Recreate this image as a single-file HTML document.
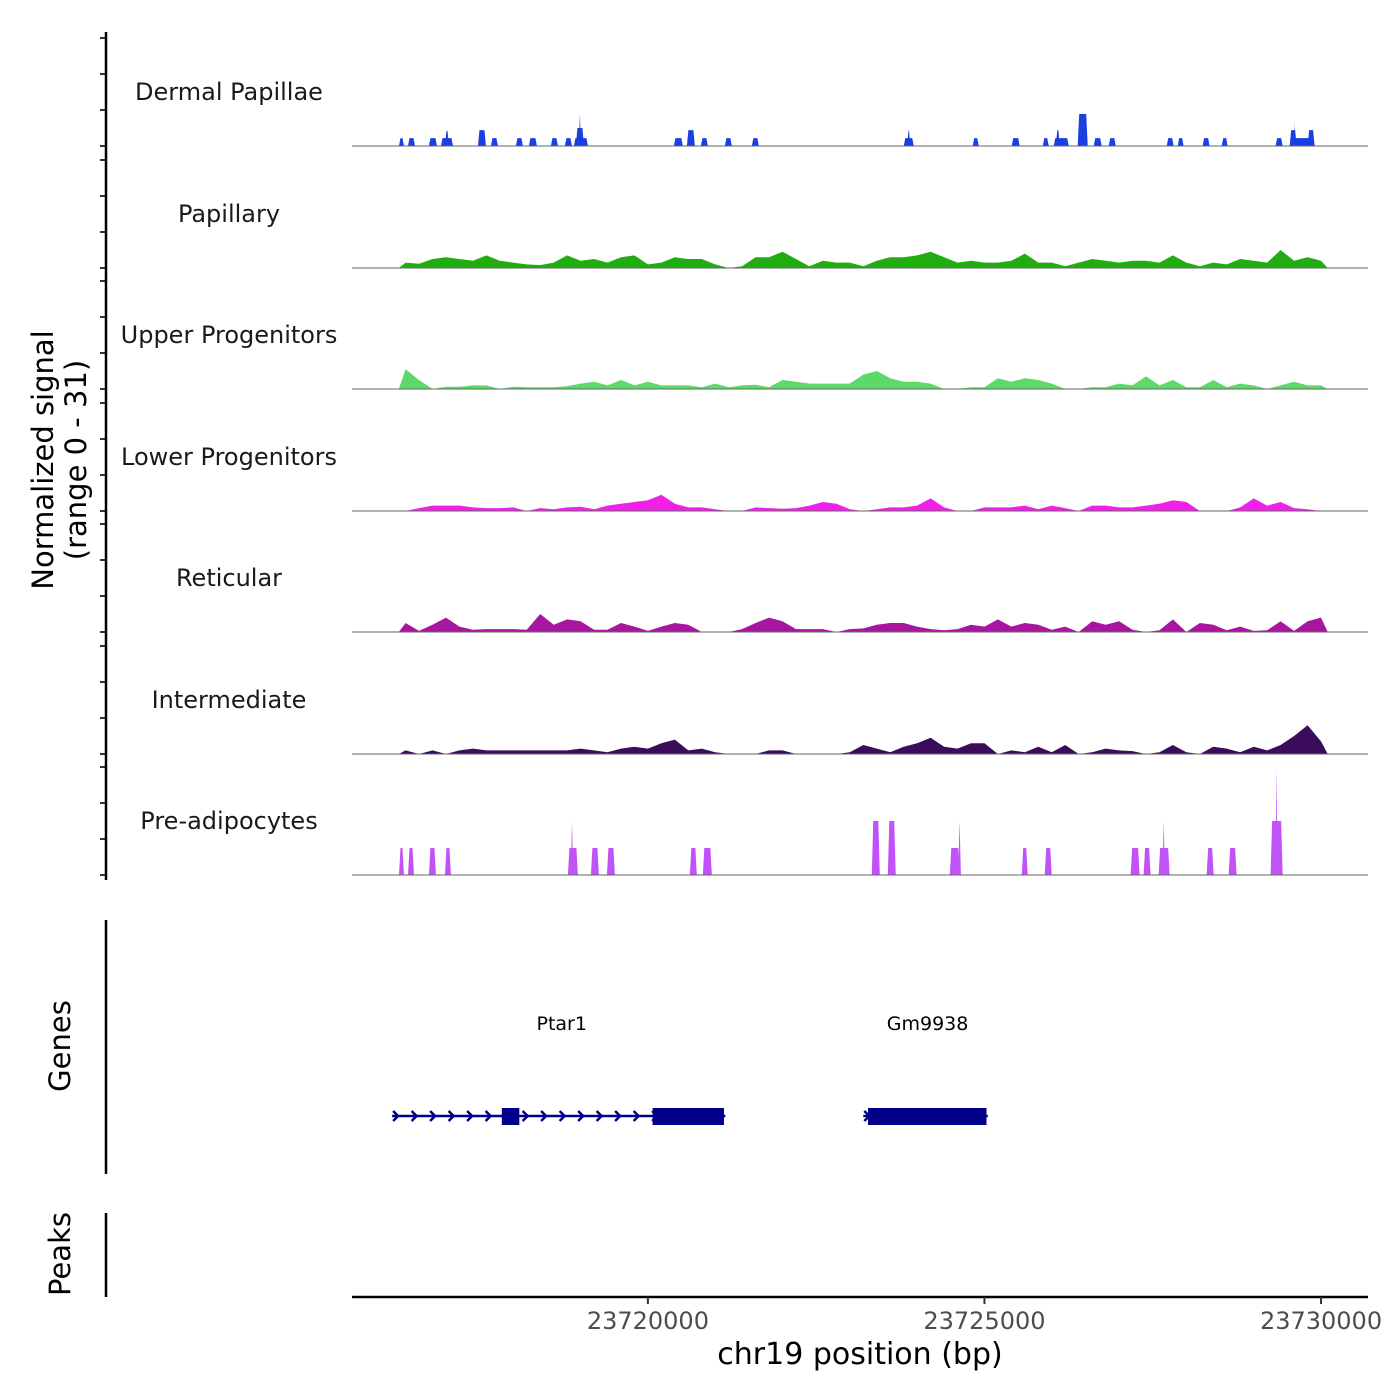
<!DOCTYPE html>
<html><head><meta charset="utf-8"><style>
html,body{margin:0;padding:0;background:#fff}
svg{display:block;font-family:"DejaVu Sans","Liberation Sans",sans-serif}
</style></head><body>
<svg id="chart" width="1400" height="1400" viewBox="0 0 1400 1400">
<g id="g-tracks"></g>
<g id="g-axes"></g>
<g id="g-genes"></g>
</svg>
<script>
// ---- data ----
const xTicks = [23720000, 23725000, 23730000];
const xTickLabels = ["23720000", "23725000", "23730000"];
const trackNames = ["Dermal Papillae","Papillary","Upper Progenitors","Lower Progenitors","Reticular","Intermediate","Pre-adipocytes"];
const trackColors = ["#1a3fe3","#1fad0f","#5cd968","#f020e8","#a8169f","#3b0b5c","#c152f7"];
const binStart = 23716300;
const binSize = 200;
const papillaryBins = [1.5,1.2,2.5,3,2.5,2,3.5,2,1.5,1,0.8,1.5,3.5,2,2.5,1.5,3,3.5,1,1.5,3,2.5,2.5,1,0,0.5,3,3,4.5,2.5,0.5,2,1.5,1.5,0.5,2,3,3,3.5,4.5,3,1.5,2,1.5,1.5,2,4,1.5,1.5,0.5,1.5,2.5,2,1.5,2,2,1.5,3.5,1.5,0.5,1.5,1,2.5,2,1.5,5,2,3,2];
const upperBins = [5.5,2.5,0,0.6,0.6,1,1,0,0.6,0.5,0.5,0.5,0.8,1.5,2,1,2.5,1,2,1,1,1,0.5,1.5,0.5,1,1.2,0.5,2.5,2,1.5,1.5,1.5,1.5,4,5,3,2,2,1.5,0,0,0.5,0.5,3,2,3,2.5,1.5,0,0,0.5,0.5,1.5,1,3.5,1,2.5,0.5,0.5,2.5,0.5,1.5,1,0,1,2,1,1];
const lowerBins = [0,0.8,1.5,1.5,1.5,1,0.8,0.8,1,0,0.8,0.5,1,1.2,0.5,1.5,2,2.5,3,4.5,2,1,1,0.5,0,0,1,0.8,0.6,0.8,1.5,2.5,2,0.5,0,0.5,1,1,1.5,3.5,1,0,0,1,1,1,1.5,0.5,1.5,0.8,0,1.5,1.5,1,1,1.5,2,3,2.5,0,0,0,1,3.5,1.5,2.5,0.8,0.5,0];
const reticularBins = [2.5,0.3,2,4,1.5,0.6,0.8,0.8,0.8,0.6,5,2,3.5,3,0.6,0.6,2.5,1.5,0.3,1.5,2.5,2,0,0,0,0.8,2.5,4,3,0.8,0.8,0.8,0,0.8,1,2,2.5,2.5,1.5,0.8,0.5,0.8,2,1.5,3.5,1.5,2.5,2,0.6,1.5,0,3,2,3,0.6,0,0.5,3.5,0,2.5,2,0.5,1.5,0.3,0.5,3,0.3,3,4];
const intermediateBins = [1,0,1,0,1,1.5,1,1,1,1,1,1,1,1.5,1,0.5,1.5,2,1.5,3,4,1,1.5,0.5,0,0,0,1,1,0,0,0,0,0.5,2.5,1.5,0.5,2,3,4.5,2,1.5,3,3,0,1,0.5,2,0.5,2.5,0,0.5,1.5,1,0.8,0,0.5,2.5,0.5,0,2,1.5,0.5,2,1,2.5,5,8,3.5];
const dermalStarts = [23716302,23716436,23716747,23716926,23716985,23717475,23717668,23718039,23718232,23718559,23718767,23718901,23718930,23718975,23720386,23720579,23720787,23721143,23721544,23723801,23723850,23724826,23725405,23725866,23726029,23726060,23726385,23726623,23726846,23727708,23727871,23728241,23728524,23729325,23729534,23729534,23729600,23729801];
const dermalEnds   = [23716376,23716540,23716866,23717104,23717045,23717594,23717772,23718143,23718351,23718663,23718871,23719109,23719050,23719005,23720519,23720698,23720891,23721247,23721648,23723950,23723900,23724915,23725524,23725955,23726252,23726120,23726534,23726742,23726951,23727811,23727959,23728345,23728613,23729430,23729905,23729638,23729615,23729905];
const dermalValues = [2.2,2.2,2.2,2.2,4.2,4.4,2.2,2.2,2.2,2.2,2.2,2.2,5,8.9,2.2,4.4,2.2,2.2,2.2,2.2,4.4,2.2,2.2,2.2,2.2,4.4,8.9,2.2,2.2,2.2,2.2,2.2,2.2,2.2,2.2,4.4,6.7,4.4];
const preadStarts = [23716302,23716436,23716747,23716985,23718812,23718855,23719153,23719391,23720623,23720816,23723326,23723564,23724485,23724610,23725554,23725895,23727172,23727364,23727588,23727645,23728301,23728628,23729251,23729325];
const preadEnds   = [23716376,23716525,23716851,23717074,23718960,23718890,23719272,23719510,23720727,23720950,23723445,23723682,23724633,23724650,23725643,23725999,23727305,23727468,23727751,23727680,23728405,23728746,23729430,23729355];
const preadValues = [7.5,7.5,7.5,7.5,7.5,15,7.5,7.5,7.5,7.5,15,15,7.5,15,7.5,7.5,7.5,7.5,7.5,15,7.5,7.5,15,30];
const geneNames = ["Ptar1","Gm9938"];
const geneStarts = [23716200, 23723200];
const geneEnds = [23721150, 23725050];
const exonStarts = [23717830, 23720070, 23723270];
const exonEnds = [23718090, 23721130, 23725030];

// ---- scales ----
const NS = "http://www.w3.org/2000/svg";
const X0 = 352, X1 = 1368, D0 = 23715604, D1 = 23730698;
function xs(bp){ return X0 + (bp - D0) / (D1 - D0) * (X1 - X0); }
const baselines = [146,268,389,511,632,754,875];
const pxPerUnit = 3.6;
function ys(t, v){ return baselines[t] - v * pxPerUnit; }
function mk(tag, attrs, parent){ const e = document.createElementNS(NS, tag); for (const k in attrs) e.setAttribute(k, attrs[k]); parent.appendChild(e); return e; }

const gT = document.getElementById('g-tracks');
const gA = document.getElementById('g-axes');
const gG = document.getElementById('g-genes');

function drawBins(t, bins){
  let d = "M" + xs(binStart).toFixed(1) + "," + baselines[t];
  bins.forEach((v, i) => {
    const xa = xs(binStart + i * binSize), xb = xs(binStart + (i + 1) * binSize);
    d += " L" + ((xa + xb) / 2).toFixed(1) + "," + ys(t, v).toFixed(1);
  });
  d += " L" + xs(binStart + bins.length * binSize).toFixed(1) + "," + baselines[t] + " Z";
  const p = mk('path', {d: d, fill: trackColors[t]}, gT);
  
  
}
function drawSegs(t, starts, ends, vals){
  starts.forEach((s, i) => {
    const a = xs(s), b = xs(ends[i]), y = ys(t, vals[i]), base = baselines[t];
    const inset = Math.min(1.5, (b - a) / 2);
    const p = mk('path', {d: `M${a},${base} L${a + inset},${y} L${b - inset},${y} L${b},${base} Z`, fill: trackColors[t]}, gT);
    
    
  });
}
drawSegs(0, dermalStarts, dermalEnds, dermalValues);
drawBins(1, papillaryBins);
drawBins(2, upperBins);
drawBins(3, lowerBins);
drawBins(4, reticularBins);
drawBins(5, intermediateBins);
drawSegs(6, preadStarts, preadEnds, preadValues);

// baselines and labels
trackNames.forEach((n, t) => {
  const l = mk('line', {x1: X0, x2: X1, y1: baselines[t], y2: baselines[t], stroke: '#666', 'stroke-width': 1}, gT);
  
  
  const tx = mk('text', {x: 229, y: baselines[t] - 46, 'text-anchor': 'middle', 'font-size': 24, fill: '#1a1a1a'}, gA);
  tx.textContent = n;
  
  
  [0, 10, 20, 30].forEach(v => {
    const tk = mk('line', {x1: 100, x2: 106, y1: ys(t, v), y2: ys(t, v), stroke: '#333', 'stroke-width': 2}, gA);
    
    
  });
});
const yAx = mk('line', {x1: 106, x2: 106, y1: 32, y2: 880, stroke: '#000', 'stroke-width': 2.5}, gA);


const yt = mk('text', {transform: 'translate(53,460) rotate(-90)', 'text-anchor': 'middle', 'font-size': 29, fill: '#000'}, gA);


yt.innerHTML = '<tspan x="0" dy="0">Normalized signal</tspan><tspan x="0" dy="33">(range 0 - 31)</tspan>';

// genes / peaks side axes
const ga = mk('line', {x1: 106, x2: 106, y1: 920, y2: 1174, stroke: '#000', 'stroke-width': 2.5}, gA);


const gt = mk('text', {transform: 'translate(70,1046) rotate(-90)', 'text-anchor': 'middle', 'font-size': 29}, gA);
gt.textContent = 'Genes';


const pa = mk('line', {x1: 106, x2: 106, y1: 1213, y2: 1297, stroke: '#000', 'stroke-width': 2.5}, gA);


const pt = mk('text', {transform: 'translate(70,1254) rotate(-90)', 'text-anchor': 'middle', 'font-size': 29}, gA);
pt.textContent = 'Peaks';



// x axis
const xa = mk('line', {x1: X0, x2: X1, y1: 1297, y2: 1297, stroke: '#000', 'stroke-width': 2.5}, gA);


xTicks.forEach((v, i) => {
  const tk = mk('line', {x1: xs(v), x2: xs(v), y1: 1297, y2: 1304, stroke: '#333', 'stroke-width': 2}, gA);
  
  
  const tl = mk('text', {x: xs(v), y: 1329, 'text-anchor': 'middle', 'font-size': 24, fill: '#4d4d4d'}, gA);
  tl.textContent = xTickLabels[i];
  
  
});
const xt = mk('text', {x: 860, y: 1364, 'text-anchor': 'middle', 'font-size': 30}, gA);
xt.textContent = 'chr19 position (bp)';



// genes
const gc = '#00008b';
geneNames.forEach((n, i) => {
  const a = xs(geneStarts[i]), b = xs(geneEnds[i]);
  const ln = mk('line', {x1: a, x2: b, y1: 1116, y2: 1116, stroke: gc, 'stroke-width': 2.5}, gG);
  
  
  for (let x = a + 4; x < b - 6; x += 18.5) {
    const c = mk('path', {d: `M${x - 3},${1111} L${x + 2},${1116} L${x - 3},${1121}`, stroke: gc, 'stroke-width': 2.5, fill: 'none'}, gG);
    
    
  }
  const lbl = mk('text', {x: (a + b) / 2 + (i === 0 ? 3 : 2), y: 1030, 'text-anchor': 'middle', 'font-size': 19, fill: '#000'}, gG);
  lbl.textContent = n;
  
  
});
exonStarts.forEach((s, i) => {
  const r = mk('rect', {x: xs(s), y: 1108, width: xs(exonEnds[i]) - xs(s), height: 17, fill: gc}, gG);
  
  
});
</script>
</body></html>
